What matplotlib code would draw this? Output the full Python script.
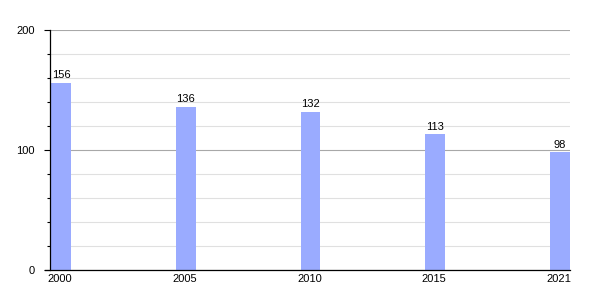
import matplotlib
matplotlib.use("Agg")
import matplotlib.pyplot as plt
from matplotlib.ticker import MultipleLocator

plt.rcParams['font.family'] = ['Liberation Sans', 'DejaVu Sans']

years = ["2000", "2005", "2010", "2015", "2021"]
values = [156, 136, 132, 113, 98]

bar_w = 0.16
pos = list(range(len(years)))

fig = plt.figure(figsize=(6, 3), dpi=100)
ax = fig.add_axes([50 / 600, 30 / 300, 520 / 600, 240 / 300])

ax.bar([p + 0.008 for p in pos], values, width=bar_w, align='edge', color='#9aabff', zorder=3)
for p, v in zip(pos, values):
    ax.text(p + 0.008 + bar_w / 2, v + 2, str(v), ha='center', va='bottom', fontsize=8, zorder=4)

ax.set_xlim(0, len(years) - 1 + bar_w + 0.008)
ax.set_ylim(0, 200)

ax.yaxis.set_major_locator(MultipleLocator(100))
ax.yaxis.set_minor_locator(MultipleLocator(20))
ax.grid(axis='y', which='minor', color='#e0e0e0', lw=0.8, zorder=0)
ax.grid(axis='y', which='major', color='#a8a8a8', lw=0.8, zorder=1)

ax.set_xticks([p + bar_w / 2 for p in pos])
ax.set_xticklabels(years)
ax.tick_params(axis='x', length=0, pad=3, labelsize=8)
ax.tick_params(axis='y', which='major', length=4, width=0.8, labelsize=8, pad=7)
ax.tick_params(axis='y', which='minor', length=2.5, width=0.8)

for s in ['top', 'right']:
    ax.spines[s].set_visible(False)
for s in ['left', 'bottom']:
    ax.spines[s].set_linewidth(0.9)
    ax.spines[s].set_zorder(5)
ax.spines['bottom'].set_bounds(-0.04, len(years) - 1 + bar_w + 0.008)
ax.spines['bottom'].set_clip_on(False)

fig.savefig("out.png", dpi=100)
